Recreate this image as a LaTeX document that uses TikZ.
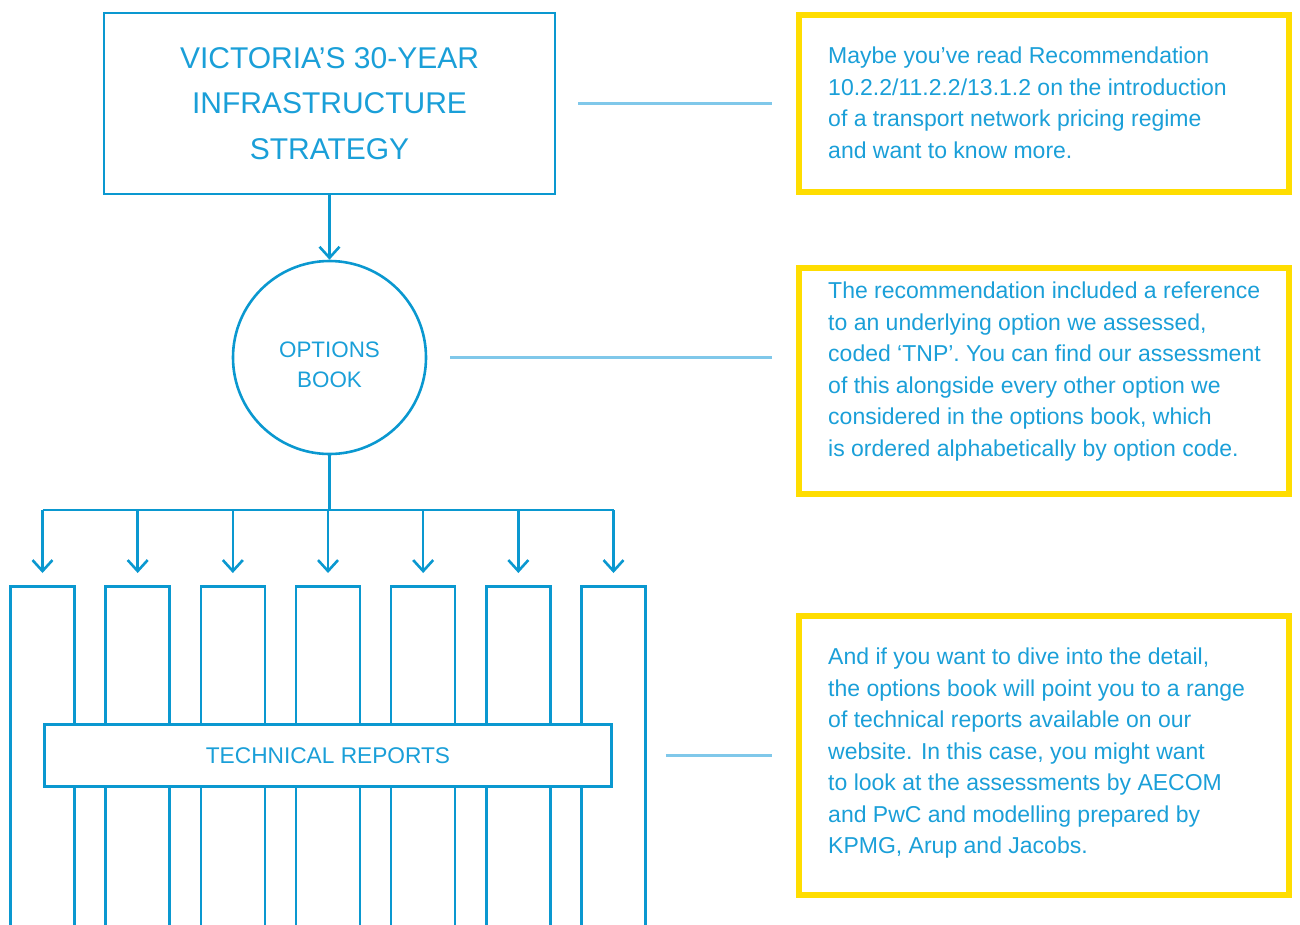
\documentclass[tikz,border=0pt]{standalone}
\usepackage{fontspec}
\setmainfont{Liberation Sans}
\usepackage{tikz}
\usetikzlibrary{arrows.meta}

\definecolor{planblue}{HTML}{0A98D0}
\definecolor{textblue}{HTML}{1A9FD8}
\definecolor{linkblue}{HTML}{80C8EA}
\definecolor{noteyellow}{HTML}{FFDD00}

\tikzset{
  stage/.style={draw=planblue, line width=2.6pt, text=textblue, align=center, inner sep=0pt},
  column/.style={draw=planblue, line width=2.6pt, minimum width=64pt, minimum height=380pt, anchor=north},
  feed/.style={draw=planblue, line width=2.6pt, -{Straight Barb[length=11pt,width=20pt]}},
  link/.style={draw=linkblue, line width=2.5pt},
  notebox/.style={draw=noteyellow, line width=6pt, minimum width=490pt},
  notetext/.style={text=textblue, align=left, inner sep=0pt, anchor=north west,
    font=\fontsize{23}{31.5}\selectfont}
}

\begin{document}
\begin{tikzpicture}[x=1pt, y=-1pt]
\useasboundingbox (0,0) rectangle (1300,924);
\clip (0,0) rectangle (1300,924);

% strategy and options book
\node[stage, minimum width=451pt, minimum height=181pt, font=\fontsize{30}{45.6}\selectfont] (strategy) at (329.5,103.5)
  {VICTORIA’S 30-YEAR\\INFRASTRUCTURE\\STRATEGY};
\node[stage, circle, minimum size=193pt] (book) at (329.5,357.5) {};
\node[text=textblue, align=center, inner sep=0pt, font=\fontsize{22.4}{30}\selectfont] (booktext) at (329.5,364.5) {OPTIONS\\BOOK};
\draw[feed] (strategy.south) -- (book.north);

% columns of reports
\foreach \i in {0,...,6}
    \node[column] (col\i) at (42.5+95.17*\i,585) {};
\coordinate (split) at (329.5,510);
\draw[planblue, line width=2.6pt] (book.south) -- (split);
\draw[planblue, line width=2.6pt] (split -| col0) -- (split -| col6);
\foreach \i in {0,...,6}
    \draw[feed, shorten >=12pt] (split -| col\i) -- (col\i.north);
\node[stage, fill=white, minimum width=567pt, minimum height=62.5pt, font=\fontsize{22.7}{28}\selectfont] (reports) at (328,755.5)
  {TECHNICAL REPORTS};

% notes
\node[notebox, minimum height=177pt] (note1) at (1044,103.5) {};
\node[notebox, minimum height=226pt] (note2) at (1044,381) {};
\node[notebox, minimum height=279pt] (note3) at (1044,755.5) {};
\node[notetext] (text1) at (828,47)
  {Maybe you’ve read Recommendation\\10.2.2/11.2.2/13.1.2 on the introduction\\of a transport network pricing regime\\and want to know more.};
\node[notetext] (text2) at (828,282)
  {The recommendation included a reference\\to an underlying option we assessed,\\coded ‘TNP’. You can find our assessment\\of this alongside every other option we\\considered in the options book, which\\is ordered alphabetically by option code.};
\node[notetext] (text3) at (828,648)
  {And if you want to dive into the detail,\\the options book will point you to a range\\of technical reports available on our\\website. In this case, you might want\\to look at the assessments by AECOM\\and PwC and modelling prepared by\\KPMG, Arup and Jacobs.};

\draw[link, shorten <=22pt, shorten >=24pt] (strategy.east) -- (strategy.east -| note1.west);
\draw[link, shorten <=23pt, shorten >=24pt] (book.east) -- (book.east -| note2.west);
\draw[link, shorten <=53pt, shorten >=24pt] (reports.east) -- (reports.east -| note3.west);
\end{tikzpicture}
\end{document}
